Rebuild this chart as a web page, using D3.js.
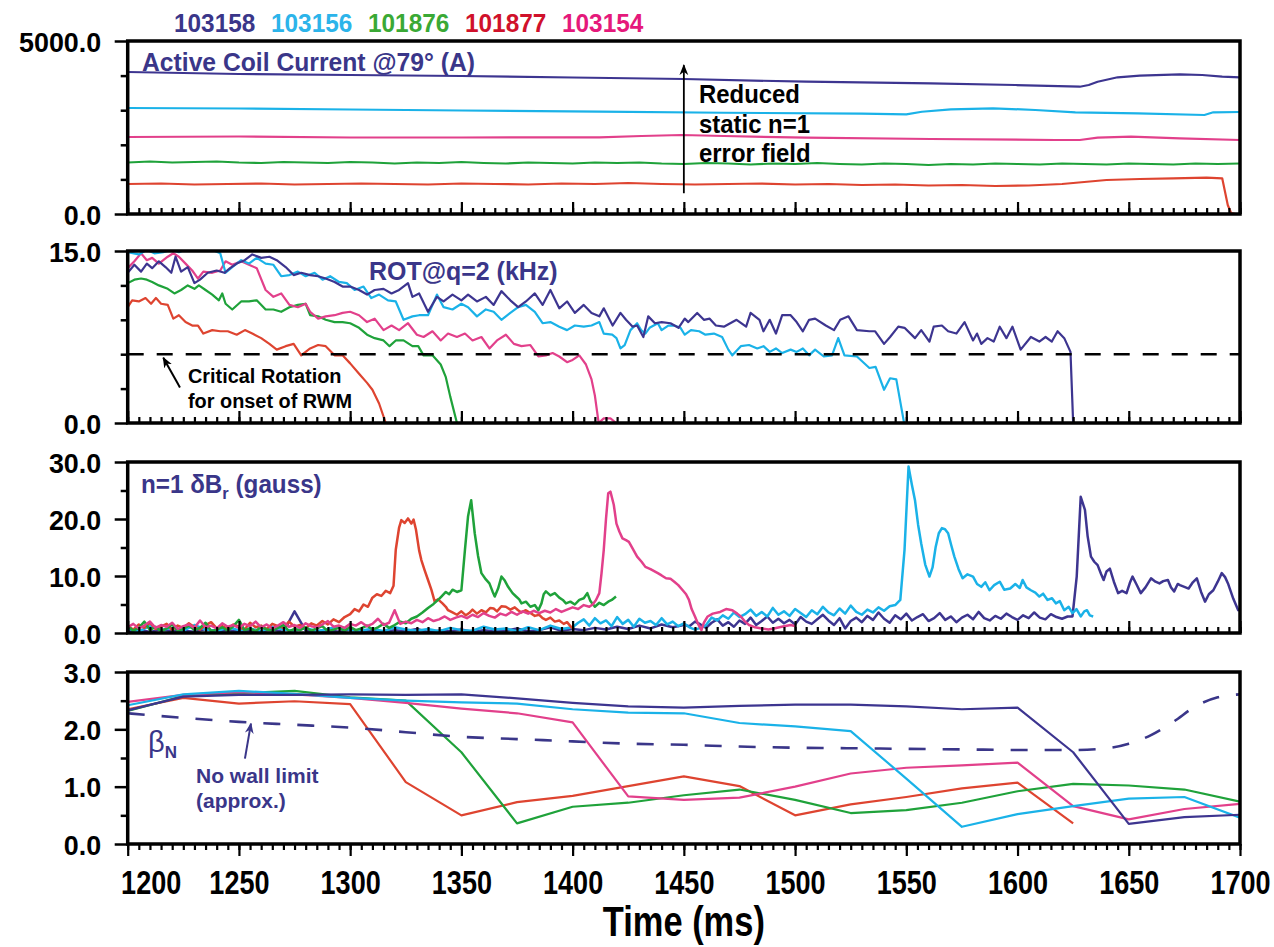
<!DOCTYPE html>
<html>
<head>
<meta charset="utf-8">
<script src="https://cdn.jsdelivr.net/npm/d3@7"></script>
<style>
  body { margin: 0; background: #fff; }
  svg { display: block; }
</style>
</head>
<body>
<div id="chart"></div>
<script>
// shots and their colours
const shots = ["103158", "103156", "101876", "101877", "103154"];
const legendColors = ["#3a3689", "#2cb4ea", "#3aa935", "#d0112b", "#e5197b"];
const lineColors = ["#3d3590", "#1ab2e8", "#1fa23a", "#de4430", "#e2408b"];

const timeTicks = [1200, 1250, 1300, 1350, 1400, 1450, 1500, 1550, 1600, 1650, 1700];

// helper: evenly sampled trace -> [t, v] pairs
function sampled(t0, dt, vals) {
  return vals.map((v, i) => [t0 + i * dt, v]);
}

// ---- panel 1: active coil current (A)
const coil103158 = [[1200,4104],[1250,4046],[1300,4017],[1350,3988],[1400,3945],[1450,3902],[1505,3823],[1561,3777],[1599,3728],[1628,3679],[1632,3728],[1636,3823],[1645,3951],[1655,3997],[1673,4037],[1683,4017],[1692,3968],[1700,3951]];
const coil103156 = [[1200,3063],[1250,3049],[1300,3020],[1350,2991],[1412,2956],[1468,2927],[1530,2900],[1550,2881],[1557,2956],[1570,3026],[1589,3055],[1608,3006],[1626,2939],[1654,2910],[1684,2861],[1688,2939],[1700,2948]];
const coil101876 = sampled(1200, 10, [1488,1517,1488,1503,1517,1488,1474,1503,1488,1474,1503,1488,1459,1488,1474,1503,1474,1459,1488,1474,1459,1488,1474,1488,1459,1445,1474,1459,1430,1459,1445,1474,1445,1430,1459,1445,1416,1445,1430,1459,1445,1430,1459,1445,1430,1459,1445,1430,1459,1445,1459]);
const coil101877 = [[1200,867],[1215,881],[1230,853],[1245,867],[1260,881],[1275,853],[1290,867],[1305,881],[1320,867],[1335,853],[1350,881],[1365,867],[1380,853],[1395,881],[1410,867],[1425,896],[1440,867],[1455,853],[1470,867],[1485,881],[1500,853],[1515,867],[1530,838],[1545,853],[1560,824],[1575,838],[1590,809],[1605,824],[1620,867],[1630,925],[1640,983],[1655,1012],[1670,1032],[1685,1049],[1692,1032],[1694.5,260],[1696,29],[1698,0]];
const coil103154 = [[1200,2225],[1250,2240],[1300,2211],[1350,2211],[1412,2217],[1431,2254],[1449,2283],[1468,2254],[1505,2205],[1561,2168],[1617,2139],[1628,2139],[1636,2205],[1651,2234],[1673,2188],[1700,2139]];

// ---- panel 2: rotation at q=2 (kHz)
const rot103158 = [[1200,13.1],[1203,13.8],[1206,13.2],[1208.6,13.9],[1211,13.5],[1214,14.1],[1217,13.6],[1219.6,13.1],[1221.5,14.5],[1224,13.2],[1227,13.6],[1230,12.2],[1232.5,12.5],[1236,13.1],[1240,13.3],[1243.5,13.1],[1246,13.5],[1249,13.9],[1252.6,14.2],[1256,14.7],[1260,14.4],[1263.7,14.5],[1267,14.2],[1271,13.6],[1274.6,12.9],[1278,13.1],[1282,12.9],[1285.6,12.8],[1289,12.6],[1293,12.3],[1296.6,11.9],[1300,11.9],[1304,11.6],[1307.6,11.2],[1311,11.6],[1315,11.7],[1318.6,11.3],[1322,11.6],[1326,12.2],[1328,11.0],[1331,11.3],[1335,9.7],[1339,11.0],[1342,10.6],[1346,11.2],[1350,10.7],[1353,11.2],[1357,10.6],[1361,11.0],[1364.5,10.3],[1368,11.5],[1372,10.7],[1375.5,10.1],[1379,10.6],[1383,11.3],[1386.5,10.3],[1390,11.6],[1394,10.0],[1397.5,10.6],[1401,9.6],[1405,10.3],[1408.5,9.6],[1412,9.3],[1414,10.0],[1418,8.5],[1421.5,9.6],[1424,9.0],[1427,8.4],[1429,8.5],[1431.8,7.5],[1434,9.3],[1437,8.7],[1440,8.8],[1444,8.7],[1447.6,8.3],[1450.4,9.1],[1452,8.8],[1456,9.6],[1459,9.0],[1461.6,9.1],[1464.4,8.5],[1468,8.4],[1473.7,9.0],[1478,8.4],[1480,9.6],[1484,9.0],[1485.8,8.0],[1488.6,9.0],[1491.4,7.8],[1494.2,9.4],[1498,9.4],[1500.7,8.8],[1503.5,8.0],[1506.3,9.0],[1509,9.1],[1513.8,8.5],[1517.5,8.1],[1520.3,9.0],[1524,9.3],[1527.8,8.1],[1533.4,8.0],[1536,8.0],[1540,6.9],[1542.7,7.5],[1546.4,8.4],[1549.2,8.3],[1553.9,7.4],[1556.7,8.1],[1560.4,7.1],[1562.3,8.4],[1566,8.5],[1568.8,8.0],[1572.5,7.8],[1576.2,8.8],[1580,7.2],[1581.8,7.8],[1583.7,6.9],[1586.5,7.4],[1589.3,7.1],[1592,8.4],[1595,7.4],[1597.7,8.4],[1601.4,6.4],[1606,7.5],[1609.8,7.1],[1612.6,7.5],[1615.4,7.1],[1618,8.0],[1621,7.4],[1623.8,6.2],[1625,0]];
const rot103156 = [[1200,14.9],[1205,14.7],[1208.6,15.1],[1212,14.8],[1216,14.9],[1219.6,15.1],[1223,14.9],[1227,15.2],[1230.6,15.1],[1234,15.2],[1238,15.1],[1241.6,14.8],[1244,13.1],[1247,13.6],[1251,14.2],[1254.5,13.9],[1258,14.4],[1262,13.9],[1265.5,13.8],[1269,12.8],[1272.7,12.9],[1276.5,13.2],[1280,12.8],[1284,13.1],[1287.6,12.5],[1291,12.8],[1295,12.3],[1298.5,12.2],[1302,11.6],[1306,11.9],[1309.5,10.9],[1313,11.2],[1317,10.7],[1320.5,10.6],[1324,9.0],[1328,9.3],[1331,9.4],[1335,9.4],[1339,11.2],[1342,10.1],[1346,9.9],[1350,10.4],[1353,10.1],[1357,9.3],[1361,9.9],[1364.5,9.7],[1368,9.0],[1372,9.6],[1375.5,10.1],[1379,10.3],[1383,9.7],[1386.5,8.7],[1390,8.8],[1394,8.4],[1397.5,8.1],[1401,8.5],[1405,8.4],[1408.5,8.5],[1412,8.8],[1414,7.8],[1417.8,7.7],[1419.7,7.4],[1421.5,6.5],[1423.4,6.8],[1426,8.1],[1429,8.7],[1430.8,8.1],[1432.7,7.8],[1434.6,8.3],[1438.3,8.7],[1440,8.1],[1443,8.5],[1445.7,8.5],[1448.5,8.3],[1450.4,7.7],[1453.2,8.1],[1456.9,8.0],[1459.7,7.7],[1463.5,7.8],[1467.2,7.5],[1470,6.4],[1471.8,5.9],[1475.6,6.7],[1479.3,6.8],[1483,6.5],[1485.8,6.7],[1488.6,6.2],[1491.4,6.5],[1494.2,6.1],[1498,6.4],[1500.7,6.2],[1503.5,6.5],[1506.3,5.9],[1509,6.4],[1512.9,5.8],[1516.6,5.9],[1519.4,7.4],[1522.2,5.9],[1527.8,5.8],[1530.6,5.3],[1533.4,4.8],[1536.2,4.9],[1540,2.9],[1542.7,3.9],[1545.5,3.8],[1549,0]];
const rot101876 = [[1200,12.2],[1203,12.5],[1206,12.6],[1208.6,12.5],[1211,12.3],[1214,12.0],[1218,11.7],[1221,11.3],[1224,11.6],[1227,12.0],[1230,11.7],[1232,12.0],[1235,11.6],[1238,11.2],[1241,10.7],[1242.5,11.3],[1244,10.4],[1247,9.9],[1251,10.6],[1254.5,10.6],[1258,10.7],[1262,9.9],[1265.5,9.9],[1269,9.7],[1272.7,10.1],[1276.5,10.3],[1280,10.4],[1282,9.4],[1285.6,9.3],[1289,9.0],[1293,8.8],[1296.6,8.8],[1300,8.7],[1304,8.3],[1307.6,7.7],[1311,7.4],[1315,7.2],[1317.7,6.7],[1320.5,7.2],[1324,7.2],[1328,6.7],[1330.6,6.7],[1333,5.9],[1337,5.9],[1340.7,5.1],[1343,4.0],[1345,2.3],[1348,0]];
const rot101877 = [[1200,10.1],[1202,10.7],[1205,10.6],[1208,10.9],[1210.5,10.4],[1212.7,10.9],[1215,10.4],[1218,10.3],[1220.5,9.1],[1223,9.4],[1226,8.8],[1229,8.5],[1231.6,8.5],[1234,7.8],[1238,8.1],[1241.6,8.0],[1245,8.0],[1249,7.7],[1252.7,8.1],[1256,7.8],[1260,7.4],[1263.7,6.9],[1267,6.4],[1271,6.7],[1274.6,6.9],[1278,5.9],[1282,6.5],[1285.6,6.8],[1289,6.7],[1293,5.9],[1296.6,5.9],[1300,5.2],[1304,4.3],[1307.6,3.5],[1310,2.9],[1313,1.7],[1316,0]];
const rot103154 = [[1200,13.5],[1203,14.1],[1206,14.8],[1208.6,14.2],[1211,14.4],[1214,13.9],[1218,14.5],[1220.5,14.8],[1223,14.5],[1226,13.9],[1229,13.3],[1231.6,12.6],[1234,13.2],[1238,13.1],[1241.6,13.3],[1244,14.1],[1247,13.8],[1251,14.1],[1254.5,13.8],[1258,13.5],[1262,11.6],[1265.5,11.0],[1269,11.3],[1272.7,10.3],[1276.5,10.1],[1280,10.4],[1282,9.7],[1285.6,9.1],[1289,9.3],[1293,9.4],[1296.6,9.6],[1300,9.7],[1304,9.4],[1307.6,8.8],[1311,9.1],[1315,8.1],[1318.6,8.5],[1322,8.1],[1326,8.7],[1330,7.7],[1333,7.5],[1337,8.0],[1340.7,7.2],[1344,7.8],[1348,7.5],[1351.6,7.8],[1355,7.2],[1359,7.5],[1362.6,6.5],[1366,7.2],[1370,7.7],[1373.6,6.9],[1377,6.7],[1381,6.8],[1384.6,5.8],[1388,5.9],[1391,6.1],[1394,5.8],[1397.5,5.3],[1400,5.5],[1403,5.9],[1406,5.1],[1408.5,3.8],[1410,2.4],[1411.7,0],[1414,0.4],[1417,0.4],[1419.6,0]];
const criticalRotation = 6;

// ---- panel 3: n=1 dBr (gauss)
const db103158 = sampled(1200, 5, [0.3,0.5,0.2,0.6,0.3,0.4,0.2,0.7,0.3,0.5,0.2,0.4,0.3,0.6,0.2,3.8,0.4,0.3,0.5,0.2,0.6,0.3,0.4,0.2,0.5,0.3,0.7,0.2,0.4,0.3,0.6,0.2,0.5,0.3,0.4,0.8,0.3,0.5,1.0,0.4,0.7,0.5,0.9,0.6,1.1,0.7,1.3,0.8,1.5,1.0,1.4])
  .concat(sampled(1452.5, 2.5, [1.2,2.0,1.5,0.9,1.8,2.4,1.3,1.9,1.1,2.2,1.6,2.7,1.4,2.1,2.9,1.8,2.5,1.7,2.3,1.5,2.8,2.0,1.6,2.4,3.2,2.2,1.4,2.6,0.8,2.1,2.7,1.9,3.0,2.3,3.6,2.5,1.8,3.1,2.4,3.4,2.2,2.8,3.3,2.1,2.6,3.5,2.3,2.9,1.9,2.7,3.2,2.4,3.7,2.6,2.2,3.0,2.5,3.4,2.8,2.3,3.1,2.6,3.6,2.7,2.4,3.3,2.8,2.5,2.9]))
  .concat([[1624.7,2.9],[1626.6,9.9],[1628.4,23.9],[1630.3,21.6],[1631.5,17.0],[1633,13.4],[1634.5,12.5],[1636,11.9],[1637.5,10.4],[1638.7,9.3],[1640,10.8],[1641.5,11.3],[1643.3,9.0],[1645.2,7.0],[1647,7.4],[1649,7.0],[1650.5,8.8],[1651.7,9.9],[1653.5,8.5],[1655.4,7.0],[1657.5,8.0],[1660,9.6],[1662,9.0],[1663.8,8.7],[1665.5,9.1],[1667.6,9.3],[1669,8.0],[1670.4,7.3],[1672,8.6],[1673,8.4],[1675,8.1],[1676.9,7.8],[1678.8,8.9],[1680.6,9.6],[1682.5,7.2],[1684.3,5.5],[1686,6.8],[1688,7.5],[1690,9.0],[1691.8,10.5],[1693.3,9.8],[1694.6,8.7],[1697,6.0],[1699.2,4.0],[1700,4.2]]);
const db103156 = sampled(1200, 5, [0.8,0.3,1.2,0.5,0.9,0.4,1.4,0.6,0.3,1.0,0.5,0.8,0.3,1.1,0.6,0.4,0.9,0.3,0.7,1.2,0.5,0.4,0.8,0.3,1.0,0.6,0.4,0.7,0.3,0.9,0.5,0.4,1.1,0.6,0.8,0.3,1.0,0.5,1.3,0.7,1.0])
  .concat(sampled(1402.5, 2.5, [1.8,2.4,1.3,2.6,1.7,2.2,1.2,2.8,1.6,2.3,1.1,2.5,1.8,2.1,1.4,2.6,1.5,2.0,1.2,1.7,1.0,0.6,0.9,1.4,2.7,2.2,3.1,2.5,3.6,2.8,3.3,4.1,3.0,3.7,2.9,4.4,3.2,3.8,3.0,4.2,3.5,2.8,4.0,3.3,4.6,3.6,3.1,4.3,3.4,4.8,3.7,3.2,4.1,3.6,4.5,3.9,4.7,4.9]))
  .concat([[1547.3,5.8],[1549.2,14.6],[1551,29.2],[1552.5,26.0],[1553.9,23.3],[1555.3,19.0],[1556.7,15.7],[1558.5,12.0],[1560.4,9.9],[1561.8,11.5],[1563.2,15.1],[1564.6,17.5],[1566,18.4],[1567.4,18.2],[1568.8,17.5],[1570.2,15.4],[1571.6,13.4],[1573.5,11.2],[1575.3,9.6],[1577.5,10.3],[1580,9.9],[1581.8,8.6],[1583.7,8.1],[1585.5,8.9],[1587.4,7.5],[1589.5,8.4],[1592,9.0],[1594,7.6],[1596.7,7.8],[1599,8.6],[1601,7.9],[1602.3,9.3],[1604,8.0],[1606,7.5],[1608,7.1],[1609.8,6.4],[1611.5,6.9],[1613.5,5.8],[1615.5,6.1],[1617.2,5.2],[1619,5.6],[1621,4.0],[1623,4.6],[1624.7,3.5],[1626.5,4.2],[1628.4,2.9],[1630,3.8],[1631.2,4.0],[1632.5,3.1],[1634,2.9]]);
const db101876 = sampled(1200, 2.5, [1.2,0.4,0.9,2.0,0.5,1.1,0.3,0.8,1.5,0.4,0.7,1.3,0.5,0.9,1.8,0.3,0.6,1.0,0.4,1.2,2.3,0.5,0.8,0.3,1.1,0.6,0.4,0.9,1.4,0.3,0.7,0.5,1.0,0.4,0.8,1.2,0.3,0.6,0.9,0.4,1.1,0.5,0.8,1.3,0.6,1.0,1.6,0.9,1.4,2.0,1.7,2.5,2.9,3.6,4.4,5.1,6.0])
  .concat([[1341,6.4],[1343,7.2],[1344.5,6.8],[1346,7.6],[1348,7.2],[1350,7.5],[1351.6,14.6],[1353,20.5],[1354.4,23.3],[1356,17.5],[1357.5,13.5],[1359,10.5],[1361,9.4],[1362.6,8.7],[1364,7.3],[1365,6.4],[1366.5,7.8],[1368,9.9],[1369.5,9.2],[1371,8.1],[1373,7.0],[1374.6,6.4],[1376,5.9],[1377,5.2],[1379,5.5],[1381,4.6],[1383,4.9],[1384.6,4.0],[1386,5.2],[1387,6.8],[1388,7.3],[1390,6.6],[1392,7.0],[1394,6.2],[1395.6,5.8],[1397,5.2],[1399,5.5],[1401,5.0],[1403,5.8],[1405,6.1],[1406.6,7.0],[1408,5.6],[1410,4.6],[1412,5.3],[1414,4.9],[1416,5.5],[1417.6,5.8],[1419.5,6.4]]);
const db101877 = sampled(1200, 2.5, [1.2,0.6,1.5,0.9,1.8,0.7,1.1,1.6,0.5,1.3,0.9,1.7,1.0,0.6,1.4,1.9,0.8,1.2,0.7,1.5,1.1,0.6,1.8,1.0,1.3,0.7,1.6,1.2,0.9,2.0,1.1,1.4,0.8,1.7,1.3,2.1,1.5,2.4,1.9,2.8,3.3])
  .concat([[1302,4.2],[1304,3.8],[1306,5.0],[1308,4.6],[1310,6.2],[1312,6.8],[1314,6.5],[1316,7.4],[1318,7.0],[1319.5,8.3],[1320.5,14.6],[1322,18.5],[1323,19.8],[1324.5,19.3],[1326,20.1],[1327.5,19.2],[1328.5,19.9],[1329.6,18.1],[1331,14.5],[1332,12.8],[1333.5,11.0],[1335,9.3],[1336.5,7.6],[1338,5.5],[1339.5,5.9],[1341.5,5.2],[1343,4.6],[1344,4.0],[1346,3.6],[1348,3.2],[1350,3.8],[1352,3.1],[1353.5,3.5],[1355,4.1],[1357,3.4],[1359,4.0],[1361,3.6],[1363,4.4],[1364.5,4.3],[1366,3.8],[1368,4.7],[1370,4.6],[1372,4.1],[1374,4.5],[1375.5,4.0],[1377,3.6],[1379,4.0],[1381,3.5],[1383,3.0],[1385,3.2],[1386.5,2.6],[1388,2.3],[1390,2.7],[1392,2.0],[1394,2.2],[1396,1.6],[1397.5,1.9],[1399,1.2],[1400,0.8]]);
const db103154 = sampled(1200, 2.5, [1.0,1.6,0.8,1.3,2.0,0.9,1.4,1.1,1.8,0.7,1.2,1.5,0.9,2.2,1.0,1.3,0.8,1.7,1.1,1.4,0.9,1.6,1.2,2.0,1.0,1.5,0.8,1.3,1.9,1.1,1.4,0.9,1.7,1.2,1.0,1.5,2.1,1.1,1.3,0.9,1.6,1.3,1.9,1.2,1.6,2.5,1.4,1.8,4.0,1.6,2.0,1.7,2.3,1.9,2.6,2.1,2.4,2.9,2.3,2.7,3.0,2.6,3.2,2.8,3.5,3.0,2.7,3.4,3.1,3.7,3.2,3.8,3.4,3.9,3.5,3.9,3.6,4.2,3.7,4.1,4.5,4.2,4.9,4.6])
  .concat([[1409,5.0],[1410.5,5.8],[1412,7.0],[1413,10.5],[1414,14.6],[1415,20.0],[1416,24.5],[1417,24.8],[1418.5,22.5],[1419.7,19.2],[1421,17.8],[1422.4,16.6],[1424,16.3],[1425.3,16.0],[1427,14.8],[1429,13.4],[1431,12.5],[1432.7,11.6],[1435,11.2],[1438.3,10.5],[1440,10.1],[1442,9.6],[1444,9.5],[1445.7,9.0],[1447.5,8.4],[1449.5,7.5],[1451,6.8],[1452.3,5.8],[1453.5,4.2],[1455,2.9],[1456.5,1.5],[1457.9,0.5],[1459,1.8],[1460.7,2.9],[1463,3.4],[1466.3,3.7],[1469,4.2],[1471.8,4.0],[1474,3.4],[1475.6,2.9],[1477.5,2.0],[1479.3,1.4],[1482,1.0],[1484.9,0.8],[1488,0.6],[1490.5,0.8],[1494,1.1],[1498,1.4],[1500,1.2]]);

// ---- panel 4: beta_N
const beta103158 = sampled(1200, 25, [2.33,2.57,2.60,2.60,2.61,2.60,2.61,2.54,2.46,2.40,2.38,2.41,2.43,2.43,2.40,2.35,2.38,1.60,0.35,0.47,0.51]);
const beta103156 = sampled(1200, 25, [2.42,2.61,2.67,2.62,2.55,2.50,2.47,2.45,2.35,2.29,2.28,2.11,2.05,1.97,1.14,0.30,0.52,0.66,0.79,0.82,0.46]);
const beta101876 = sampled(1200, 25, [2.32,2.58,2.63,2.67,2.56,2.50,1.60,0.36,0.65,0.72,0.85,0.95,0.77,0.54,0.59,0.72,0.92,1.05,1.02,0.95,0.74]);
const beta101877 = sampled(1200, 25, [2.35,2.55,2.45,2.49,2.44,1.08,0.50,0.73,0.84,1.01,1.18,1.01,0.50,0.69,0.82,0.97,1.07,0.36]);
const beta103154 = sampled(1200, 25, [2.48,2.60,2.65,2.61,2.55,2.46,2.36,2.28,2.12,0.83,0.77,0.81,1.00,1.23,1.33,1.37,1.42,0.66,0.43,0.61,0.70]);
const noWallLimit = [[1200,2.28],[1225,2.20],[1250,2.13],[1275,2.08],[1300,2.03],[1325,1.95],[1350,1.87],[1375,1.83],[1400,1.79],[1425,1.75],[1450,1.73],[1475,1.70],[1500,1.68],[1525,1.67],[1550,1.66],[1575,1.65],[1600,1.64],[1625,1.64],[1640,1.67],[1650,1.75],[1660,1.90],[1670,2.13],[1680,2.40],[1690,2.56],[1700,2.61]];

const FONT = "'Liberation Sans', Arial, Helvetica, sans-serif";
const NAVY = "#3a3689";
const W = 1274, H = 947;

const svg = d3.select("#chart").append("svg")
  .attr("width", W).attr("height", H)
  .attr("font-family", FONT);

const x = d3.scaleLinear().domain([1200, 1700]).range([127.7, 1240]);

const panels = [
  {top: 41, bottom: 214, domain: [0, 5000], major: [0, 5000], minor: [1000, 2000, 3000, 4000], lw: 2.2,
   series: [coil103158, coil103156, coil101876, coil101877, coil103154], order: [3, 2, 4, 1, 0]},
  {top: 251, bottom: 423, domain: [0, 15], major: [0, 15], minor: [3, 6, 9, 12], lw: 2.2,
   series: [rot103158, rot103156, rot101876, rot101877, rot103154], order: [3, 2, 4, 1, 0]},
  {top: 462, bottom: 633, domain: [0, 30], major: [0, 10, 20, 30], minor: [5, 15, 25], lw: 2.5,
   series: [db103158, db103156, db101876, db101877, db103154], order: [0, 1, 3, 2, 4]},
  {top: 672, bottom: 844, domain: [0, 3], major: [0, 1, 2, 3], minor: [0.5, 1.5, 2.5], lw: 2.2,
   series: [beta103158, beta103156, beta101876, beta101877, beta103154], order: [3, 2, 4, 1, 0]}
];
panels.forEach(p => {
  p.y = d3.scaleLinear().domain(p.domain).range([p.bottom, p.top]);
});

// arrowheads
const defs = svg.append("defs");
function marker(id, color) {
  defs.append("marker")
    .attr("id", id).attr("viewBox", "0 0 10 10")
    .attr("refX", 9).attr("refY", 5)
    .attr("markerUnits", "userSpaceOnUse")
    .attr("markerWidth", 11).attr("markerHeight", 11)
    .attr("orient", "auto")
    .append("path").attr("d", "M0,1 L10,5 L0,9 L3,5 z").attr("fill", color);
}
marker("ahBlack", "#000");
marker("ahNavy", NAVY);

function addText(g, tx, ty, str, o) {
  return g.append("text")
    .attr("transform", `translate(${tx},${ty}) scale(${o.sx || 1},1)`)
    .attr("font-size", o.size)
    .attr("font-weight", o.weight || "bold")
    .attr("fill", o.color || "#000")
    .attr("text-anchor", o.anchor || "start")
    .text(str);
}

const minorTimes = d3.range(1200, 1701, 5);

panels.forEach((p, pi) => {
  const g = svg.append("g");
  const clipId = "clip" + pi;
  defs.append("clipPath").attr("id", clipId)
    .append("rect")
    .attr("x", x(1200)).attr("y", p.top)
    .attr("width", x(1700) - x(1200)).attr("height", p.bottom - p.top);

  const line = d3.line().x(d => x(d[0])).y(d => p.y(d[1]));
  const lg = g.append("g").attr("clip-path", `url(#${clipId})`);
  p.order.forEach(i => {
    lg.append("path")
      .datum(p.series[i])
      .attr("d", line)
      .attr("fill", "none")
      .attr("stroke", lineColors[i])
      .attr("stroke-width", p.lw)
      .attr("stroke-linejoin", "round");
  });

  // left ticks
  const yMajor = g.append("g").attr("transform", `translate(${x(1200)},0)`)
    .call(d3.axisLeft(p.y).tickValues(p.major).tickSize(13).tickFormat(d3.format(".1f")));
  const yMinor = g.append("g").attr("transform", `translate(${x(1200)},0)`)
    .call(d3.axisLeft(p.y).tickValues(p.minor).tickSize(7).tickFormat(""));
  [yMajor, yMinor].forEach(a => {
    a.select(".domain").remove();
    a.selectAll("line").attr("stroke", "#000").attr("stroke-width", 2.5);
  });
  const ysx = 0.96;
  yMajor.selectAll("text")
    .attr("fill", "#000").attr("font-size", 28).attr("font-weight", "bold")
    .attr("font-family", FONT)
    .attr("x", -26.5 / ysx).attr("dy", "0.36em")
    .attr("transform", `scale(${ysx},1)`);

  // time ticks
  const last = pi === panels.length - 1;
  const axisFn = last ? d3.axisBottom : d3.axisTop;
  const xMinor = g.append("g").attr("transform", `translate(0,${p.bottom})`)
    .call(axisFn(x).tickValues(minorTimes).tickSize(6).tickFormat(""));
  const xMajor = g.append("g").attr("transform", `translate(0,${p.bottom})`)
    .call(axisFn(x).tickValues(timeTicks).tickSize(12)
      .tickFormat(last ? d3.format("d") : ""));
  [xMinor, xMajor].forEach(a => {
    a.select(".domain").remove();
    a.selectAll("line").attr("stroke", "#000").attr("stroke-width", 2.2);
  });
  if (last) {
    const xsx = 0.82;
    xMajor.selectAll("text")
      .attr("fill", "#000").attr("font-size", 33).attr("font-weight", "bold")
      .attr("font-family", FONT)
      .attr("y", 50).attr("dy", null)
      .attr("x", d => (d === 1200 ? 23 : 0) / xsx)
      .attr("transform", `scale(${xsx},1)`);
  }

  p.g = g;
});

// panel 2: critical rotation dashed line
const p2 = panels[1];
p2.g.append("line")
  .attr("x1", x(1200)).attr("x2", x(1700))
  .attr("y1", p2.y(criticalRotation)).attr("y2", p2.y(criticalRotation))
  .attr("stroke", "#000").attr("stroke-width", 2.6)
  .attr("stroke-dasharray", "16,13");

// panel 4: no wall limit dashed
const p4 = panels[3];
p4.g.append("path")
  .datum(noWallLimit)
  .attr("d", d3.line().x(d => x(d[0])).y(d => p4.y(d[1])).curve(d3.curveMonotoneX))
  .attr("fill", "none").attr("stroke", NAVY)
  .attr("stroke-width", 2.6).attr("stroke-dasharray", "17,17");

// frames on top
panels.forEach(p => {
  p.g.append("rect")
    .attr("x", x(1200)).attr("y", p.top)
    .attr("width", x(1700) - x(1200)).attr("height", p.bottom - p.top)
    .attr("fill", "none").attr("stroke", "#000").attr("stroke-width", 3.5);
});

// legend
const legendX = [174, 271, 368, 465, 562];
shots.forEach((s, i) => {
  addText(svg, legendX[i], 32, s, {size: 26.5, sx: 0.92, color: legendColors[i]});
});

// panel labels and notes
const p1 = panels[0];
addText(svg, 142, 71, "Active Coil Current @79\u00b0 (A)", {size: 26, sx: 0.95, color: NAVY});
svg.append("line")
  .attr("x1", x(1450)).attr("x2", x(1450))
  .attr("y1", p1.y(600)).attr("y2", p1.y(4300))
  .attr("stroke", "#000").attr("stroke-width", 1.8)
  .attr("marker-end", "url(#ahBlack)");
addText(svg, 699, 103, "Reduced", {size: 26, sx: 0.92});
addText(svg, 699, 133, "static n=1", {size: 26, sx: 0.92});
addText(svg, 699, 162, "error field", {size: 26, sx: 0.92});

addText(svg, 369, 280, "ROT@q=2 (kHz)", {size: 26, sx: 0.96, color: NAVY});
svg.append("line")
  .attr("x1", x(1223.5)).attr("y1", p2.y(3.1))
  .attr("x2", x(1216)).attr("y2", p2.y(5.7))
  .attr("stroke", "#000").attr("stroke-width", 2)
  .attr("marker-end", "url(#ahBlack)");
addText(svg, 188, 383, "Critical Rotation", {size: 20.5, sx: 0.97});
addText(svg, 188, 408, "for onset of RWM", {size: 20.5, sx: 0.97});

const dbLabel = svg.append("text")
  .attr("transform", "translate(141,493) scale(0.97,1)")
  .attr("font-size", 25).attr("font-weight", "bold").attr("fill", NAVY);
dbLabel.append("tspan").text("n=1 \u03b4B");
dbLabel.append("tspan").attr("dy", 6).attr("font-size", 17).text("r");
dbLabel.append("tspan").attr("dy", -6).text(" (gauss)");

const beta = svg.append("text")
  .attr("transform", "translate(148,752)")
  .attr("font-size", 29).attr("fill", NAVY);
beta.append("tspan").text("\u03b2");
beta.append("tspan").attr("dy", 6).attr("font-size", 17).attr("font-weight", "bold").text("N");
svg.append("line")
  .attr("x1", x(1252.7)).attr("y1", p4.y(1.49))
  .attr("x2", x(1255.4)).attr("y2", p4.y(2.1))
  .attr("stroke", NAVY).attr("stroke-width", 2)
  .attr("marker-end", "url(#ahNavy)");
addText(svg, 196, 783, "No wall limit", {size: 21, color: NAVY});
addText(svg, 196, 808, "(approx.)", {size: 21, color: NAVY});

// x axis title
addText(svg, (x(1200) + x(1700)) / 2, 936, "Time (ms)", {size: 42, sx: 0.82, anchor: "middle"});
</script>
</body>
</html>
